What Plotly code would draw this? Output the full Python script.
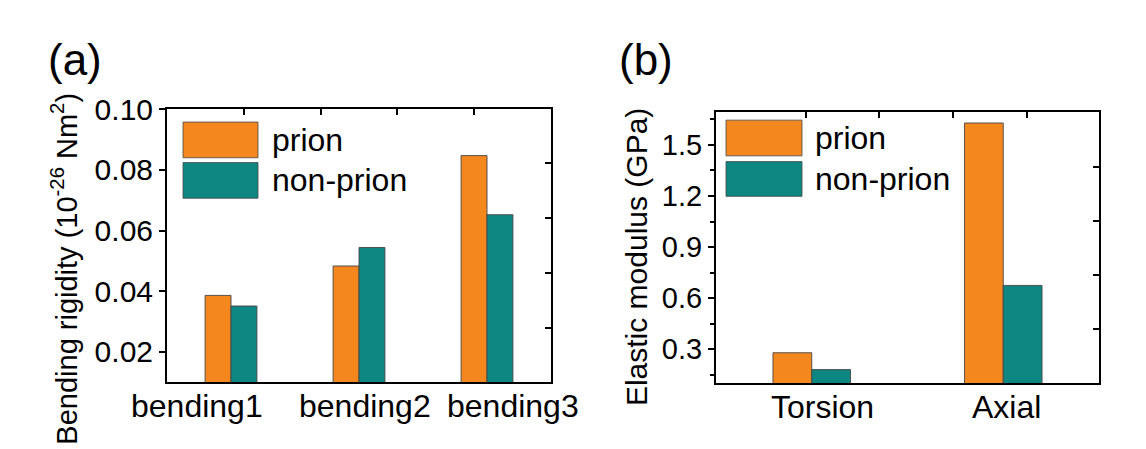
import plotly.graph_objects as go

# ---- data ----
bend_cats = ["bending1", "bending2", "bending3"]
bend_prion = [0.0386, 0.0483, 0.0847]
bend_nonprion = [0.0351, 0.0544, 0.0652]

mod_cats = ["Torsion", "Axial"]
mod_prion = [0.28, 1.628]
mod_nonprion = [0.181, 0.675]

series_names = ["prion", "non-prion"]
bend_yticks = [0.02, 0.04, 0.06, 0.08, 0.10]
mod_yticks = [0.3, 0.6, 0.9, 1.2, 1.5]

ORANGE = "#F5871F"
TEAL = "#0E8782"
FONT = "Liberation Sans, Arial, sans-serif"
W, H = 1146, 449

def px_x(p):
    return p / W

def px_y(p):
    return (H - p) / H

fig = go.Figure()
edge = dict(color="rgba(70,70,70,0.9)", width=1)

fig.add_trace(go.Bar(x=bend_cats, y=bend_prion, name=series_names[0], marker=dict(color=ORANGE, line=edge),
                     xaxis="x", yaxis="y", offsetgroup="a", showlegend=False))
fig.add_trace(go.Bar(x=bend_cats, y=bend_nonprion, name=series_names[1], marker=dict(color=TEAL, line=edge),
                     xaxis="x", yaxis="y", offsetgroup="b", showlegend=False))
fig.add_trace(go.Bar(x=mod_cats, y=mod_prion, name=series_names[0], marker=dict(color=ORANGE, line=edge),
                     xaxis="x2", yaxis="y2", offsetgroup="a", showlegend=False))
fig.add_trace(go.Bar(x=mod_cats, y=mod_nonprion, name=series_names[1], marker=dict(color=TEAL, line=edge),
                     xaxis="x2", yaxis="y2", offsetgroup="b", showlegend=False))
# empty traces to bind overlay tick axes
fig.add_trace(go.Scatter(x=[], y=[], xaxis="x3", yaxis="y3", showlegend=False))
fig.add_trace(go.Scatter(x=[], y=[], xaxis="x4", yaxis="y4", showlegend=False))

dom_x1 = [px_x(167), px_x(551)]
dom_y1 = [px_y(380), px_y(96)]
dom_x2 = [px_x(716), px_x(1099)]
dom_y2 = [px_y(381), px_y(100)]

axline = dict(showline=True, linecolor="black", linewidth=2, mirror=True, showgrid=False, zeroline=False)

fig.update_layout(
    width=W, height=H,
    margin=dict(l=0, r=0, t=0, b=0),
    paper_bgcolor="white", plot_bgcolor="white",
    barmode="group", bargap=0.595, bargroupgap=0,
    xaxis=dict(domain=dom_x1, anchor="y", range=[-0.5, 2.5], showticklabels=False, ticks="", **axline),
    yaxis=dict(domain=dom_y1, anchor="x", range=[0.0099, 0.1002], tickvals=bend_yticks,
               ticktext=[f"{v:.2f}" for v in bend_yticks], ticks="outside", ticklen=6, tickwidth=2,
               tickcolor="black", tickfont=dict(family=FONT, size=30, color="black"), **axline),
    xaxis2=dict(domain=dom_x2, anchor="y2", range=[-0.5, 1.5], showticklabels=False, ticks="", **axline),
    yaxis2=dict(domain=dom_y2, anchor="x2", range=[0.1, 1.69], tickvals=mod_yticks,
                ticktext=[f"{v:.1f}" for v in mod_yticks], ticks="outside", ticklen=6, tickwidth=2,
                tickcolor="black", tickfont=dict(family=FONT, size=29, color="black"),
                minor=dict(tickvals=[0.15, 0.45, 0.75, 1.05, 1.35, 1.65], ticks="outside", ticklen=4,
                           tickwidth=2, tickcolor="black"),
                **axline),
    # mirrored tick axes (top / right)
    xaxis3=dict(overlaying="x", anchor="y", side="top", range=[0, 1], tickvals=[0.2, 0.4, 0.6, 0.8],
                ticks="inside", ticklen=6, tickwidth=2, tickcolor="black", showticklabels=False,
                showgrid=False, zeroline=False, showline=False),
    yaxis3=dict(overlaying="y", anchor="x", side="right", range=[0, 1], tickvals=[0.2, 0.4, 0.6, 0.8],
                ticks="inside", ticklen=6, tickwidth=2, tickcolor="black", showticklabels=False,
                showgrid=False, zeroline=False, showline=False),
    xaxis4=dict(overlaying="x2", anchor="y2", side="top", range=[0, 1], tickvals=[0.234, 0.425, 0.62, 0.811],
                ticks="inside", ticklen=6, tickwidth=2, tickcolor="black", showticklabels=False,
                showgrid=False, zeroline=False, showline=False),
    yaxis4=dict(overlaying="y2", anchor="x2", side="right", range=[0, 1], tickvals=[0.2, 0.4, 0.6, 0.8],
                ticks="inside", ticklen=6, tickwidth=2, tickcolor="black", showticklabels=False,
                showgrid=False, zeroline=False, showline=False),
    font=dict(family=FONT, color="black"),
)

ann = []
# category labels
bend_shift = [-34, 6, 26]
for c, s in zip(bend_cats, bend_shift):
    ann.append(dict(x=c, xref="x", y=dom_y1[0], yref="paper", xanchor="center", yanchor="top",
                    yshift=-4, xshift=s, text=c, showarrow=False, font=dict(family=FONT, size=32)))
mod_shift = [11, 3]
for c, s in zip(mod_cats, mod_shift):
    ann.append(dict(x=c, xref="x2", y=dom_y2[0], yref="paper", xanchor="center", yanchor="top",
                    yshift=-4, xshift=s, text=c, showarrow=False, font=dict(family=FONT, size=32)))
# axis titles
ann.append(dict(x=px_x(64), y=px_y(262), xref="paper", yref="paper", xanchor="center", yanchor="middle",
                textangle=-90, text="Bending rigidity (10<sup>-26</sup> Nm<sup>2</sup>)", showarrow=False,
                font=dict(family=FONT, size=29)))
ann.append(dict(x=px_x(636), y=px_y(250), xref="paper", yref="paper", xanchor="center", yanchor="middle",
                textangle=-90, text="Elastic modulus (GPa)", showarrow=False, font=dict(family=FONT, size=30)))
# panel labels
ann.append(dict(x=px_x(75), y=px_y(45), xref="paper", yref="paper", xanchor="center", yanchor="middle",
                text="(a)", showarrow=False, font=dict(family=FONT, size=44)))
ann.append(dict(x=px_x(646), y=px_y(45), xref="paper", yref="paper", xanchor="center", yanchor="middle",
                text="(b)", showarrow=False, font=dict(family=FONT, size=44)))

shapes = []
# custom legends (large swatches, as in the original)
legend_boxes = [
    (183, 258, [(110, 147), (152, 189)], 270),
    (726, 802, [(108, 145), (151, 187)], 813),
]
for x0, x1, rows, tx in legend_boxes:
    for (y0, y1), col, name in zip(rows, [ORANGE, TEAL], series_names):
        shapes.append(dict(type="rect", xref="paper", yref="paper", x0=px_x(x0), x1=px_x(x1),
                           y0=px_y(y1), y1=px_y(y0), fillcolor=col,
                           line=dict(color="rgba(70,70,70,0.8)", width=1)))
        ann.append(dict(x=px_x(tx), y=px_y((y0 + y1) / 2), xref="paper", yref="paper", xanchor="left",
                        yanchor="middle", text=name, showarrow=False, font=dict(family=FONT, size=32)))

fig.update_layout(annotations=ann, shapes=shapes)
fig.write_html("out.html")
